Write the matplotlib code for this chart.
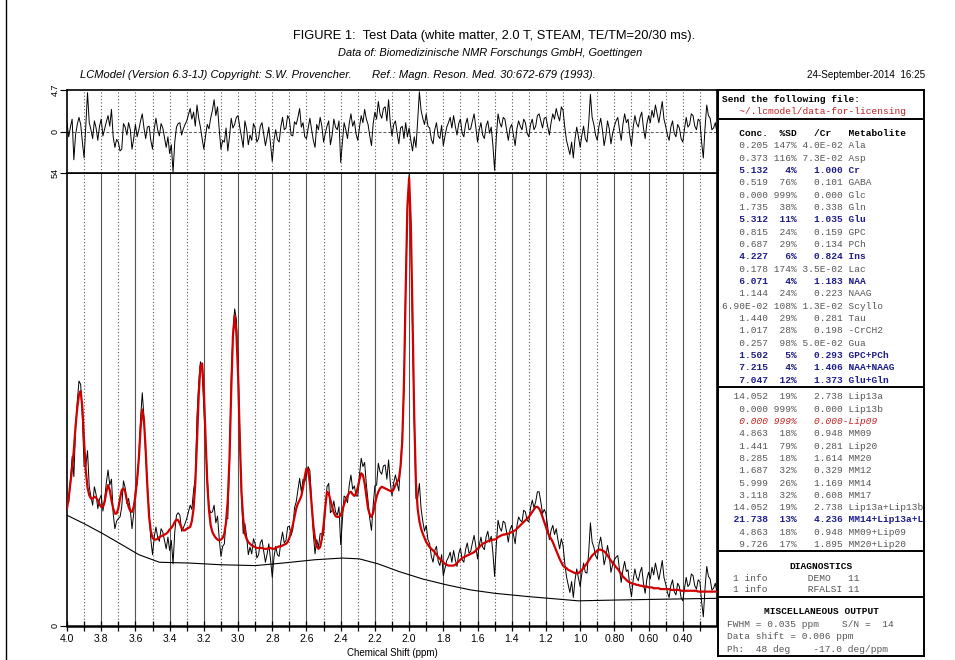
import numpy as np
import matplotlib.pyplot as plt
from matplotlib.lines import Line2D

plt.rcParams['font.family'] = ['Liberation Sans', 'DejaVu Sans']

W, H = 955, 660

# LCModel fit and residual on a 0.01 ppm grid (4.00 -> 0.20)
fit = [14.0, 15.3, 17.0, 18.8, 21.0, 23.8, 26.0, 27.6, 28.0, 26.0,
       22.0, 18.5, 16.5, 15.6, 15.2, 15.2, 15.4, 15.3, 15.0, 14.5,
       14.2, 14.2, 14.8, 16.0, 16.8, 16.2, 15.0, 14.0, 13.4, 13.4,
       14.0, 15.2, 16.2, 16.4, 16.0, 15.0, 14.2, 13.7, 13.6, 14.2,
       15.5, 17.5, 20.0, 23.5, 25.8, 24.5, 21.0, 16.5, 13.0, 11.3,
       10.5, 10.3, 10.3, 10.4, 10.6, 10.7, 10.8, 10.9, 11.0, 11.2,
       11.5, 11.7, 12.0, 12.4, 12.7, 12.6, 12.2, 11.7, 11.4, 11.4,
       11.6, 11.7, 11.8, 12.5, 14.0, 17.0, 22.0, 27.5, 31.0, 31.3,
       28.0, 22.5, 17.0, 13.8, 12.0, 11.2, 10.8, 10.5, 10.3, 10.2,
       10.3, 10.5, 11.0, 12.4, 15.0, 20.0, 28.0, 34.5, 37.0, 35.0,
       30.0, 22.5, 16.0, 12.8, 11.0, 10.4, 10.0, 9.8, 9.6, 9.5,
       9.4, 9.3, 9.3, 9.3, 9.3, 9.2, 9.2, 9.2, 9.3, 9.3,
       9.2, 9.2, 9.3, 9.4, 9.5, 9.5, 9.6, 9.7, 9.8, 10.0,
       10.5, 11.2, 12.0, 13.0, 14.0, 14.6, 15.0, 15.5, 16.5, 17.8,
       18.8, 18.6, 17.0, 14.5, 12.0, 10.4, 9.5, 9.2, 9.4, 10.4,
       12.0, 14.2, 16.0, 15.8, 15.0, 14.2, 13.5, 13.1, 13.0, 13.0,
       13.2, 13.8, 14.5, 15.1, 15.5, 15.9, 16.0, 15.7, 15.5, 15.8,
       16.5, 17.5, 18.2, 18.0, 17.0, 15.5, 14.0, 13.3, 13.0, 13.5,
       14.5, 15.4, 16.0, 16.4, 16.6, 16.5, 16.4, 16.3, 16.2, 16.1,
       16.0, 16.3, 16.8, 17.2, 17.5, 19.0, 22.0, 29.0, 40.0, 50.0,
       53.4, 48.0, 37.0, 25.0, 17.0, 14.0, 12.5, 11.6, 11.0, 10.5,
       10.0, 9.7, 9.4, 9.2, 9.0, 8.8, 8.5, 8.2, 8.0, 7.8,
       7.6, 7.4, 7.3, 7.2, 7.2, 7.2, 7.2, 7.3, 7.5, 7.7,
       7.9, 8.1, 8.2, 8.3, 8.4, 8.5, 8.6, 8.7, 8.8, 9.0,
       9.2, 9.4, 9.6, 9.8, 9.9, 10.0, 10.1, 10.2, 10.2, 10.3,
       10.3, 10.4, 10.6, 10.7, 10.8, 10.9, 10.9, 11.0, 11.0, 11.1,
       11.2, 11.3, 11.4, 11.6, 11.8, 12.0, 12.2, 12.4, 12.6, 12.8,
       13.0, 13.3, 13.6, 13.9, 14.2, 14.2, 14.0, 13.6, 13.0, 12.4,
       11.8, 11.2, 10.7, 10.4, 10.0, 9.5, 9.0, 8.5, 8.0, 7.6,
       7.2, 7.0, 6.9, 6.7, 6.6, 6.5, 6.4, 6.3, 6.3, 6.3,
       6.5, 6.7, 6.9, 7.2, 7.5, 7.8, 8.1, 8.4, 8.6, 8.8,
       9.0, 9.1, 9.1, 9.0, 8.9, 8.7, 8.4, 8.1, 7.8, 7.5,
       7.3, 7.0, 6.8, 6.5, 6.2, 5.9, 5.7, 5.5, 5.3, 5.2,
       5.1, 5.0, 5.0, 4.9, 4.9, 4.8, 4.8, 4.7, 4.7, 4.7,
       4.6, 4.6, 4.6, 4.5, 4.5, 4.5, 4.5, 4.4, 4.4, 4.4,
       4.4, 4.4, 4.4, 4.3, 4.3, 4.3, 4.3, 4.3, 4.3, 4.2,
       4.2, 4.2, 4.2, 4.2, 4.2, 4.2, 4.2, 4.2, 4.2, 4.1,
       4.1, 4.1, 4.1, 4.1, 4.1, 4.1, 4.1, 4.1, 4.1, 4.1,
       4.1]

resid = [1.0, -0.6, 0.5, 1.4, -3.2, -0.4, 0.8, 1.6, 0.8, -1.2,
         -3.0, 0.6, 4.4, 1.0, 0.2, -0.8, 1.2, 0.4, -1.0, 0.6,
         1.4, -0.5, 0.3, 1.1, 1.8, 0.6, 2.5, -0.6, -1.8, -0.9,
         -1.2, -2.2, -2.0, 0.9, 0.5, -0.4, 1.0, 0.2, -2.0, -0.8,
         0.8, -0.6, 0.2, 1.2, 2.0, 0.4, -0.8, 0.5, 0.6, -1.0,
         -2.0, 0.3, 1.5, 0.2, -0.5, 0.9, 0.4, -0.7, -1.8, -0.6,
         -2.5, -1.5, -4.6, -1.2, 0.5, 0.9, 1.0, -0.4, 0.3, 0.8,
         1.2, 1.9, 2.6, 1.4, 2.2, 0.6, 3.0, 1.5, 0.5, -0.8,
         -2.0, -0.5, 0.8, 0.3, 1.5, 2.4, 3.6, 1.8, 2.8, 0.2,
         -2.0, -1.0, -1.2, 0.4, -2.2, -0.6, 1.5, 0.4, 0.8, 1.6,
         1.8, 0.5, -0.6, -1.8, 1.2, 0.3, -1.5, -0.4, -1.0, 0.9,
         0.4, -1.2, -0.8, 0.6, 1.0, -0.3, -1.6, -0.6, 0.5, -1.4,
         -3.4, -1.0, 0.2, -0.9, -1.2, 0.5, 1.6, 0.2, 0.4, 1.8,
         1.4, -0.4, -0.5, 1.1, 0.8, 1.6, 2.6, 0.5, 1.0, -0.6,
         -0.8, 0.4, 1.5, 0.2, -1.0, -1.8, 0.8, 0.2, 1.6, 0.6,
         -1.2, -0.2, 0.6, 1.2, -1.5, -0.4, 1.4, 0.5, 0.2, 1.2,
         -3.5, -1.2, 1.0, 0.2, -0.8, 0.9, 2.0, 0.6, 1.2, -0.3,
         -1.0, 0.5, 1.8, 1.0, 2.5, 1.4, 0.8, -0.5, -1.6, 0.9,
         2.2, 1.4, 3.4, 2.0, 1.5, 2.6, 2.8, 1.2, 3.6, 1.0,
         -0.5, 0.8, 1.2, -0.2, -1.4, 0.4, 0.6, -0.8, 1.0, -0.6,
         0.4, -1.0, -2.2, -0.6, -1.8, 1.2, 4.5, 2.4, 1.5, 0.8,
         2.0, 0.6, 0.4, -0.9, -1.4, 0.2, 1.0, -0.5, -0.8, 0.7,
         -1.6, -0.5, 0.5, 1.0, 1.6, 0.4, 1.8, 0.6, -0.4, 0.9,
         1.4, -0.2, -0.6, 0.8, 1.5, 0.2, 0.3, 1.2, 2.0, 0.5,
         -1.2, 0.2, 1.0, -0.4, -0.8, 0.6, 1.2, -0.2, 0.5, -1.6,
         -4.4, -0.6, 2.0, 1.0, 0.5, 1.6, 1.4, 0.2, -1.0, 0.4,
         0.8, -0.4, -1.6, 0.3, 1.2, 0.6, 0.2, 1.4, 1.0, -0.2,
         -0.6, 0.8, 1.4, 0.2, 0.6, 1.8, 2.0, 1.2, 0.4, 1.5,
         1.6, 0.6, -0.4, 1.0, 2.0, 1.4, 2.6, 1.8, 1.2, 2.8,
         2.4, 0.5, -1.0, -1.8, -2.6, -1.2, -3.0, -0.8, 0.5, -0.6,
         -1.8, -0.4, 0.6, -0.8, -1.2, 1.0, 4.2, 1.6, 0.8, -0.4,
         -1.0, 0.6, 1.5, 0.2, -1.6, -0.5, 1.2, 0.3, -1.4, -0.2,
         0.6, 1.2, 1.6, 0.2, -1.0, 0.8, 2.0, 1.0, 1.4, -0.4,
         -1.6, 0.5, 1.8, 0.9, 0.5, 1.6, 2.2, 0.4, -0.8, 0.9,
         1.8, 1.0, 2.4, 1.6, 3.0, 2.0, 1.0, 2.2, 3.4, 1.4,
         0.6, -0.4, -1.0, 0.5, 1.2, -0.2, -0.6, 0.8, 0.4, -0.8,
         -1.2, 0.3, 1.6, 0.5, 0.8, 2.0, 1.8, 0.6, 0.2, 1.4,
         1.2, -1.2, -3.0, 0.4, 3.0, 1.8, 1.5, 0.2, 0.4, 1.0,
         -0.2]

base_ppm = [4.00, 3.90, 3.79, 3.68, 3.58, 3.46, 3.28, 3.10, 2.90, 2.74, 2.55, 2.39,
            2.29, 2.18, 2.06, 1.92, 1.78, 1.64, 1.50, 1.30, 1.01, 0.78, 0.50, 0.20]
base = [13.2, 12.2, 11.0, 9.7, 8.5, 7.6, 7.5, 7.3, 7.2, 7.5, 7.9, 8.1,
        8.0, 7.4, 6.5, 5.6, 4.9, 4.3, 3.9, 3.5, 3.0, 3.1, 3.2, 3.3]

tick_ppm = [4.0, 3.8, 3.6, 3.4, 3.2, 3.0, 2.8, 2.6, 2.4, 2.2, 2.0, 1.8,
            1.6, 1.4, 1.2, 1.0, 0.8, 0.6, 0.4]
tick_lbl = ['4.0', '3.8', '3.6', '3.4', '3.2', '3.0', '2.8', '2.6', '2.4', '2.2', '2.0', '1.8',
            '1.6', '1.4', '1.2', '1.0', '0.80', '0.60', '0.40']

# concentration table
conc = ['0.205', '0.373', '5.132', '0.519', '0.000', '1.735', '5.312', '0.815', '0.687', '4.227',
        '0.178', '6.071', '1.144', '6.90E-02', '1.440', '1.017', '0.257', '1.502', '7.215', '7.047']
sd = ['147%', '116%', '4%', '76%', '999%', '38%', '11%', '24%', '29%', '6%',
      '174%', '4%', '24%', '108%', '29%', '28%', '98%', '5%', '4%', '12%']
ratio = ['4.0E-02', '7.3E-02', '1.000', '0.101', '0.000', '0.338', '1.035', '0.159', '0.134', '0.824',
         '3.5E-02', '1.183', '0.223', '1.3E-02', '0.281', '0.198', '5.0E-02', '0.293', '1.406', '1.373']
names = ['Ala', 'Asp', 'Cr', 'GABA', 'Glc', 'Gln', 'Glu', 'GPC', 'PCh', 'Ins',
         'Lac', 'NAA', 'NAAG', 'Scyllo', 'Tau', '-CrCH2', 'Gua', 'GPC+PCh', 'NAA+NAAG', 'Glu+Gln']
bold_names = ['Cr', 'Glu', 'Ins', 'NAA', 'GPC+PCh', 'NAA+NAAG', 'Glu+Gln', 'MM14+Lip13a+L']

lip_conc = ['14.052', '0.000', '0.000', '4.863', '1.441', '8.285', '1.687', '5.999', '3.118',
            '14.052', '21.738', '4.863', '9.726']
lip_sd = ['19%', '999%', '999%', '18%', '79%', '18%', '32%', '26%', '32%', '19%', '13%', '18%', '17%']
lip_ratio = ['2.738', '0.000', '0.000', '0.948', '0.281', '1.614', '0.329', '1.169', '0.608',
             '2.738', '4.236', '0.948', '1.895']
lip_names = ['Lip13a', 'Lip13b', 'Lip09', 'MM09', 'Lip20', 'MM20', 'MM12', 'MM14', 'MM17',
             'Lip13a+Lip13b', 'MM14+Lip13a+L', 'MM09+Lip09', 'MM20+Lip20']

ppm = np.round(4.0 - 0.01 * np.arange(len(fit)), 2)
data = np.array(fit) + np.array(resid)


def rect(x0, y0, x1, y1):
    return [x0 / W, 1 - y1 / H, (x1 - x0) / W, (y1 - y0) / H]


fig = plt.figure(figsize=(W / 100, H / 100), dpi=100)
ax = fig.add_axes(rect(67, 173, 717, 626))
axr = fig.add_axes(rect(67, 90, 717, 173))

# grid lines every 0.1 ppm
for k in range(3, 40):
    x = k / 10
    if k % 2 == 0:
        ax.axvline(x, color='#555555', lw=0.8, zorder=1)
    else:
        ax.axvline(x, color='#555555', lw=0.8, ls=(0, (1, 2)), zorder=1)
    axr.axvline(x, color='#555555', lw=0.8, ls=(0, (1, 2)), zorder=1)

ax.plot(ppm, data, color='black', lw=0.7, zorder=2)
ax.plot(base_ppm, base, color='black', lw=0.8, zorder=2)
ax.plot(ppm, fit, color='#d00000', lw=1.6, zorder=3)

ax.set_xlim(4.0, 0.2)
ax.set_ylim(0, 54)
ax.set_xticks(tick_ppm)
ax.set_xticklabels(tick_lbl, fontsize=7.5)
ax.set_xticks([k / 10 for k in range(3, 40, 2)], minor=True)
ax.tick_params(axis='x', which='both', direction='inout', length=7, width=0.9, pad=2)
ax.set_yticks([0, 54])
ax.set_yticklabels(['0', '54'], rotation=90, va='center', fontsize=6.5)
ax.tick_params(axis='y', length=5, width=0.8, pad=0.5)
ax.set_xlabel('Chemical Shift (ppm)', fontsize=7, labelpad=3)
for s in ax.spines.values():
    s.set_linewidth(1.2)
ax.spines['bottom'].set_linewidth(1.8)

axr.plot(ppm, resid, color='black', lw=0.7, zorder=2)
axr.axhline(0, color='#555555', lw=0.7, ls=(0, (3, 2)), zorder=1)
axr.set_xlim(4.0, 0.2)
axr.set_ylim(-4.7, 4.7)
axr.set_xticks([])
axr.set_yticks([0, 4.7])
axr.set_yticklabels(['0', '4.7'], rotation=90, va='center', fontsize=6.5)
axr.tick_params(axis='y', length=5, width=0.8, pad=0.5)
for s in axr.spines.values():
    s.set_linewidth(1.2)


# header
def ftext(x, y, s, **kw):
    fig.text(x / W, 1 - y / H, s, va='center', **kw)


ftext(494, 36, 'FIGURE 1:  Test Data (white matter, 2.0 T, STEAM, TE/TM=20/30 ms).',
      ha='center', fontsize=9.3)
ftext(490, 53, 'Data of: Biomedizinische NMR Forschungs GmbH, Goettingen',
      ha='center', fontsize=7.9, style='italic')
ftext(80, 75, 'LCModel (Version 6.3-1J) Copyright: S.W. Provencher.',
      ha='left', fontsize=8.0, style='italic')
ftext(372, 75, 'Ref.: Magn. Reson. Med. 30:672-679 (1993).',
      ha='left', fontsize=8.1, style='italic')
ftext(925, 75, '24-September-2014  16:25', ha='right', fontsize=7.1)
fig.add_artist(Line2D([6 / W, 6 / W], [0, 1], color='black', lw=1.0))

# results panel, drawn in pixel units
axt = fig.add_axes(rect(718, 90, 924, 656))
axt.set_xlim(718, 924)
axt.set_ylim(656, 90)
axt.set_xticks([])
axt.set_yticks([])
for s in axt.spines.values():
    s.set_linewidth(1.4)
for yy in [119, 387, 551, 597]:
    axt.axhline(yy, color='black', lw=1.4)

mono = ['Liberation Mono', 'DejaVu Sans Mono']
fs = 6.8
gray = '#555555'
blue = '#1c1c8c'
red = '#c41e1e'


def row(y, s, color=gray, weight='normal', style='normal', x=722, ha='left'):
    axt.text(x, y, s, family=mono, fontsize=fs, color=color, weight=weight,
             style=style, ha=ha, va='center')


row(100, 'Send the following file:', color='black', weight='bold')
row(112, '   ~/.lcmodel/data-for-licensing', color=red)
row(134, '   Conc.  %SD   /Cr   Metabolite', color='black', weight='bold')
for i in range(len(names)):
    line = f'{conc[i]:>8} {sd[i]:>4} {ratio[i]:>7} {names[i]}'
    if names[i] in bold_names:
        row(146 + 12.33 * i, line, color=blue, weight='bold')
    else:
        row(146 + 12.33 * i, line)
for i in range(len(lip_names)):
    y = 396.7 + 12.33 * i
    if lip_names[i] == 'Lip09':
        line = f'{lip_conc[i]:>8} {lip_sd[i]:>4} {lip_ratio[i]:>7}-{lip_names[i]}'
        row(y, line, color=red, style='italic')
    elif lip_names[i] in bold_names:
        row(y, f'{lip_conc[i]:>8} {lip_sd[i]:>4} {lip_ratio[i]:>7} {lip_names[i]}',
            color=blue, weight='bold')
    else:
        row(y, f'{lip_conc[i]:>8} {lip_sd[i]:>4} {lip_ratio[i]:>7} {lip_names[i]}')

row(566.5, 'DIAGNOSTICS', color='black', weight='bold', x=821, ha='center')
row(578.3, '1 info       DEMO   11', x=733)
row(590, '1 info       RFALSI 11', x=733)
row(612, 'MISCELLANEOUS OUTPUT', color='black', weight='bold', x=821, ha='center')
row(624.3, 'FWHM = 0.035 ppm    S/N =  14', x=727)
row(636.7, 'Data shift = 0.006 ppm', x=727)
row(649.5, 'Ph:  48 deg    -17.0 deg/ppm', x=727)

fig.savefig('out.png', dpi=100)
